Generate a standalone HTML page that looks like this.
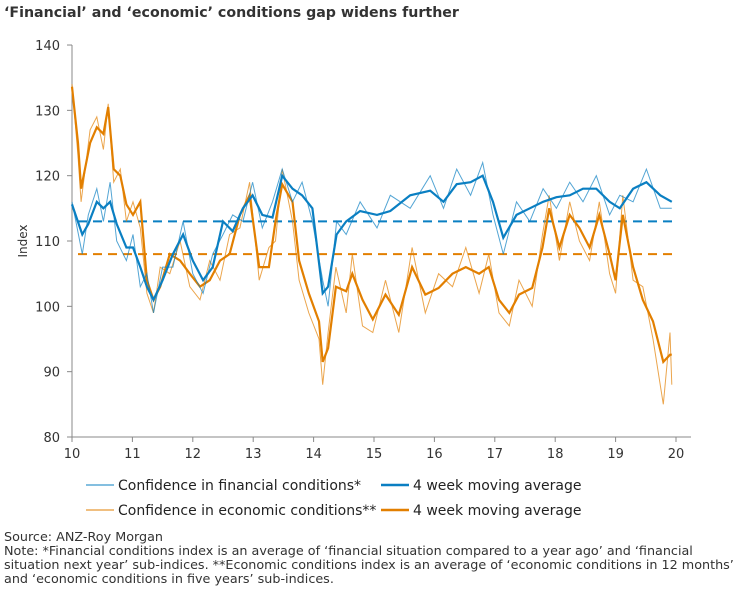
<!DOCTYPE html>
<html><head><meta charset="utf-8"><style>
body{margin:0;background:#fff;font-family:"DejaVu Sans","Liberation Sans",sans-serif;color:#222}
#wrap{position:relative;width:749px;height:599px;overflow:hidden}
.t{position:absolute;white-space:nowrap}
</style></head><body>
<div id="wrap">
<div class="t" style="left:4px;top:5px;font-size:14.2px;font-weight:bold;color:#333">‘Financial’ and ‘economic’ conditions gap widens further</div>
<svg id="svg" width="749" height="599" style="position:absolute;left:0;top:0"></svg>
<div class="t" style="left:4px;top:531px;font-size:12.75px;line-height:14px;color:#333">Source: ANZ-Roy Morgan<br>Note: *Financial conditions index is an average of ‘financial situation compared to a year ago’ and ‘financial<br>situation next year’ sub-indices. **Economic conditions index is an average of ‘economic conditions in 12 months’<br>and ‘economic conditions in five years’ sub-indices.</div>
</div>
<script>
const finYears=[10.0,10.17,10.27,10.41,10.52,10.63,10.74,10.9,11.01,11.13,11.24,11.35,11.5,11.67,11.84,12.0,12.17,12.33,12.5,12.66,12.83,12.99,13.15,13.32,13.48,13.65,13.81,13.98,14.15,14.24,14.38,14.54,14.77,15.05,15.27,15.6,15.93,16.15,16.37,16.6,16.8,16.97,17.14,17.36,17.58,17.8,18.02,18.24,18.46,18.68,18.9,19.07,19.29,19.51,19.74,19.93];
const finMA=[115.6,111,112.6,116,115,116,112.6,109,109,106,103,101,104,108,111,107,104,106,113,111.5,115,117,114,113.6,120,118,117,115,102,103,111,113,114.6,114,114.6,117,117.7,116,118.7,119,120,116,110.5,114,115,116,116.7,117,118,118,116,115,118,119,117,116];
const finRaw=[116,108,114,118,113,119,110,107,111,103,105,99,106,106,113,105,102,108,111,114,113,119,112,116,121,116,119,113,104,100,113,111,116,112,117,115,120,115,121,117,122,114,108,116,113,118,115,119,116,120,114,117,116,121,115,115];
const ecoYears=[10.0,10.1,10.15,10.3,10.41,10.52,10.6,10.69,10.8,10.9,11.01,11.13,11.24,11.35,11.46,11.62,11.79,11.95,12.12,12.28,12.45,12.61,12.78,12.94,13.1,13.26,13.37,13.48,13.65,13.76,13.92,14.09,14.15,14.24,14.37,14.54,14.64,14.81,14.98,15.19,15.41,15.63,15.85,16.07,16.3,16.52,16.74,16.9,17.07,17.24,17.4,17.62,17.79,17.9,18.07,18.24,18.4,18.57,18.73,18.9,19.0,19.12,19.29,19.45,19.62,19.79,19.9,19.93];
const ecoMA=[133.6,125,118,125,127.4,126.4,130.5,121,120,115.6,114,116,104,101,103,108,107,105,103,104,107,108,114,117,106,106,113,118.7,116,107,102,97.7,91.5,93.6,103,102.3,105,101,98,101.8,98.7,106,101.8,102.8,105,106,105,106,101,99,101.8,102.8,109,115,109,114,112,109,114,108,104,114,106,101,97.7,91.5,92.6,92.6];
const ecoRaw=[134,123,116,127,129,124,131,119,121,113,116,112,102,99,106,105,110,103,101,107,104,111,112,119,104,109,110,121,113,104,99,95,88,96,106,99,108,97,96,104,96,109,99,105,103,109,102,108,99,97,104,100,111,117,107,116,110,107,116,105,102,117,104,103,95,85,96,88];
const finAvg=113, ecoAvg=108;
const yTicks=[80,90,100,110,120,130,140];
const xTicks=[10,11,12,13,14,15,16,17,18,19,20];

const NS='http://www.w3.org/2000/svg';
const svg=document.getElementById('svg');
const X=v=>72+(v-10)*60.4;
const Y=v=>437-(v-80)*6.533;
const BLUE='#0a7fc2', ORANGE='#e27f00';
function mk(tag,at){const e=document.createElementNS(NS,tag);for(const k in at)e.setAttribute(k,at[k]);svg.appendChild(e);return e;}
let e;
e=mk('line',{x1:72,y1:45,x2:72,y2:437,stroke:'#888','stroke-width':1});


e=mk('line',{x1:72,y1:437,x2:691,y2:437,stroke:'#888','stroke-width':1});


yTicks.forEach(v=>{
 e=mk('line',{x1:67,y1:Y(v),x2:72,y2:Y(v),stroke:'#888'});
 
 
 e=mk('text',{x:60,y:Y(v)+5,'text-anchor':'end','font-size':13,fill:'#333','font-family':'DejaVu Sans, sans-serif'});
 e.textContent=v;
 
 
});
xTicks.forEach(v=>{
 e=mk('line',{x1:X(v),y1:437,x2:X(v),y2:442,stroke:'#888'});
 
 
 e=mk('text',{x:X(v),y:458,'text-anchor':'middle','font-size':13,fill:'#333','font-family':'DejaVu Sans, sans-serif'});
 e.textContent=v;
 
 
});
e=mk('text',{x:27,y:241,'text-anchor':'middle','font-size':12,fill:'#333',transform:'rotate(-90 27 241)','font-family':'DejaVu Sans, sans-serif'});
e.textContent='Index';


function path(xs,ys){return xs.map((x,i)=>(i?'L':'M')+X(x).toFixed(1)+' '+Y(ys[i]).toFixed(1)).join(' ');}
e=mk('line',{x1:78,y1:Y(finAvg),x2:672,y2:Y(finAvg),stroke:BLUE,'stroke-width':2,'stroke-dasharray':'9 6'});


e=mk('line',{x1:78,y1:Y(ecoAvg),x2:672,y2:Y(ecoAvg),stroke:ORANGE,'stroke-width':2,'stroke-dasharray':'9 6'});


e=mk('path',{d:path(ecoYears,ecoRaw),fill:'none',stroke:ORANGE,'stroke-width':1,opacity:0.7});


e=mk('path',{d:path(ecoYears,ecoMA),fill:'none',stroke:ORANGE,'stroke-width':2.2});


e=mk('path',{d:path(finYears,finRaw),fill:'none',stroke:BLUE,'stroke-width':1,opacity:0.7});


e=mk('path',{d:path(finYears,finMA),fill:'none',stroke:BLUE,'stroke-width':2.2});


const leg=[[86,485,BLUE,1,'Confidence in financial conditions*','legend-financial'],[381,485,BLUE,2.5,'4 week moving average','legend-financial-ma'],[86,510,ORANGE,1,'Confidence in economic conditions**','legend-economic'],[381,510,ORANGE,2.5,'4 week moving average','legend-economic-ma']];
leg.forEach(l=>{
 e=mk('line',{x1:l[0],y1:l[1],x2:l[0]+28,y2:l[1],stroke:l[2],'stroke-width':l[3]});
 
 
 e=mk('text',{x:l[0]+32,y:l[1]+5,'font-size':14,fill:'#222','font-family':'DejaVu Sans, sans-serif'});
 e.textContent=l[4];
 
 
});
</script>
</body></html>
